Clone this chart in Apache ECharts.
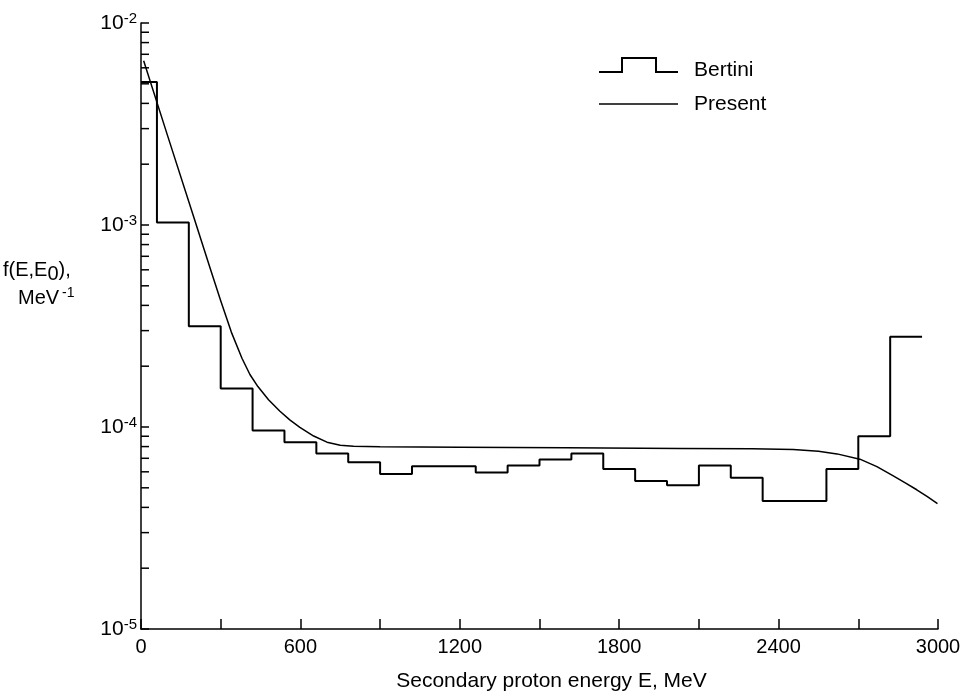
<!DOCTYPE html>
<html>
<head>
<meta charset="utf-8">
<script src="https://cdn.jsdelivr.net/npm/echarts@6/dist/echarts.min.js"></script>
<style>
  html, body { margin: 0; padding: 0; background: #fff; }
  #chart { width: 964px; height: 698px; }
</style>
</head>
<body>
<div id="chart"></div>
<script>
// Bertini histogram: bin edges (MeV) and the value in each bin
var binEdges = [0, 60, 180, 300, 420, 540, 660, 780, 900, 1020, 1140, 1260, 1380,
  1500, 1620, 1740, 1860, 1980, 2100, 2220, 2340, 2460, 2580, 2700, 2820, 2940];
var bertiniValues = [5.1e-3, 1.03e-3, 3.15e-4, 1.55e-4, 9.6e-5, 8.4e-5, 7.4e-5, 6.7e-5,
  5.85e-5, 6.4e-5, 6.4e-5, 5.95e-5, 6.45e-5, 6.9e-5, 7.4e-5, 6.2e-5, 5.4e-5, 5.15e-5,
  6.45e-5, 5.6e-5, 4.3e-5, 4.3e-5, 6.2e-5, 9.0e-5, 2.8e-4];

// Present calculation
var presentE = [10, 100, 200, 263, 300, 340, 380, 410, 440, 480, 523, 560, 598, 650,
  700, 750, 800, 900, 1200, 1600, 2029, 2300, 2455, 2550, 2620, 2706, 2770, 2830,
  2880, 2920, 2960, 2998];
var presentValues = [6.5e-3, 2.77e-3, 1.08e-3, 5.96e-4, 4.22e-4, 2.95e-4, 2.19e-4,
  1.82e-4, 1.585e-4, 1.365e-4, 1.197e-4, 1.084e-4, 9.95e-5, 9.02e-5, 8.41e-5, 8.13e-5,
  8.02e-5, 7.98e-5, 7.94e-5, 7.89e-5, 7.82e-5, 7.80e-5, 7.74e-5, 7.59e-5, 7.36e-5,
  6.93e-5, 6.37e-5, 5.74e-5, 5.26e-5, 4.89e-5, 4.52e-5, 4.18e-5];

// minor ticks of the log axis
var minorTickValues = [2e-5, 3e-5, 4e-5, 5e-5, 6e-5, 7e-5, 8e-5, 9e-5,
  2e-4, 3e-4, 4e-4, 5e-4, 6e-4, 7e-4, 8e-4, 9e-4,
  2e-3, 3e-3, 4e-3, 5e-3, 6e-3, 7e-3, 8e-3, 9e-3];

var font = '"Liberation Sans", Arial, Helvetica, sans-serif';

var bertiniData = [];
for (var i = 0; i < bertiniValues.length; i++) {
  bertiniData.push([binEdges[i], bertiniValues[i]]);
}
bertiniData.push([binEdges[binEdges.length - 1], bertiniValues[bertiniValues.length - 1]]);

var presentData = presentE.map(function (e, i) { return [e, presentValues[i]]; });

var chart = echarts.init(document.getElementById('chart'));
var option = {
  backgroundColor: '#fff',
  animation: false,
  grid: { left: 141, right: 26, top: 23, bottom: 69, outerBoundsMode: 'none' },
  xAxis: {
    type: 'value',
    min: 0,
    max: 3000,
    interval: 300,
    name: 'Secondary proton energy E, MeV',
    nameLocation: 'middle',
    nameGap: 42,
    nameTextStyle: { color: '#000', fontSize: 21, fontFamily: font, padding: [0, 0, 0, 24] },
    axisLine: { lineStyle: { color: '#000', width: 1.5 } },
    axisTick: { inside: true, length: 10, lineStyle: { color: '#000', width: 1.5 } },
    axisLabel: {
      color: '#000', fontSize: 20, fontFamily: font, margin: 8,
      formatter: function (v) { return v % 600 === 0 ? String(v) : ''; }
    },
    splitLine: { show: false }
  },
  yAxis: {
    type: 'log',
    logBase: 10,
    min: 1e-5,
    max: 1e-2,
    axisLine: { lineStyle: { color: '#000', width: 1.5 } },
    axisTick: { inside: true, length: 8, lineStyle: { color: '#000', width: 1.5 } },
    axisLabel: {
      margin: 4,
      formatter: function (v) {
        var e = Math.round(Math.log(v) / Math.LN10);
        return '{b|10}{s|' + e + '}';
      },
      rich: {
        b: { color: '#000', fontSize: 21, fontFamily: font, lineHeight: 24 },
        s: { color: '#000', fontSize: 15, fontFamily: font, verticalAlign: 'top', lineHeight: 24, padding: [0, 0, 10, 0] }
      }
    },
    splitLine: { show: false }
  },
  graphic: [
    {
      type: 'polyline',
      shape: { points: [[599, 72], [622, 72], [622, 58], [656, 58], [656, 72], [678, 72]] },
      style: { stroke: '#000', lineWidth: 2, fill: null }
    },
    { type: 'text', left: 694, top: 60, style: { text: 'Bertini', fill: '#000', font: '21px ' + font } },
    {
      type: 'line',
      shape: { x1: 599, y1: 104, x2: 678, y2: 104 },
      style: { stroke: '#000', lineWidth: 1.5 }
    },
    { type: 'text', left: 694, top: 94, style: { text: 'Present', fill: '#000', font: '21px ' + font } },
    {
      type: 'text', left: 3, top: 258,
      style: {
        text: '{a|f(E,E}{u|0}{a|),}',
        rich: {
          a: { fill: '#000', fontSize: 20, fontFamily: font, lineHeight: 24, verticalAlign: 'top' },
          u: { fill: '#000', fontSize: 20, fontFamily: font, lineHeight: 24, verticalAlign: 'bottom', padding: [6, 0, 0, 0] }
        }
      }
    },
    {
      type: 'text', left: 18, top: 286,
      style: {
        text: '{a|MeV}{s|-1}',
        rich: {
          a: { fill: '#000', fontSize: 20, fontFamily: font, lineHeight: 24 },
          s: { fill: '#000', fontSize: 14, fontFamily: font, lineHeight: 24, verticalAlign: 'top', padding: [0, 0, 10, 3] }
        }
      }
    }
  ],
  series: [
    {
      name: 'Bertini',
      type: 'line',
      step: 'end',
      data: bertiniData,
      symbol: 'none',
      lineStyle: { color: '#000', width: 2 }
    },
    {
      name: 'Present',
      type: 'line',
      data: presentData,
      symbol: 'none',
      lineStyle: { color: '#000', width: 1.5 }
    },
    {
      name: 'minorTicks',
      type: 'custom',
      data: minorTickValues.map(function (v) { return [0, v]; }),
      encode: { x: 0, y: 1 },
      silent: true,
      clip: false,
      renderItem: function (params, api) {
        var p = api.coord([0, api.value(1)]);
        return {
          type: 'line',
          shape: { x1: p[0], y1: p[1], x2: p[0] + 8, y2: p[1] },
          style: { stroke: '#000', lineWidth: 1.5 }
        };
      }
    }
  ]
};
chart.setOption(option);
</script>
</body>
</html>
